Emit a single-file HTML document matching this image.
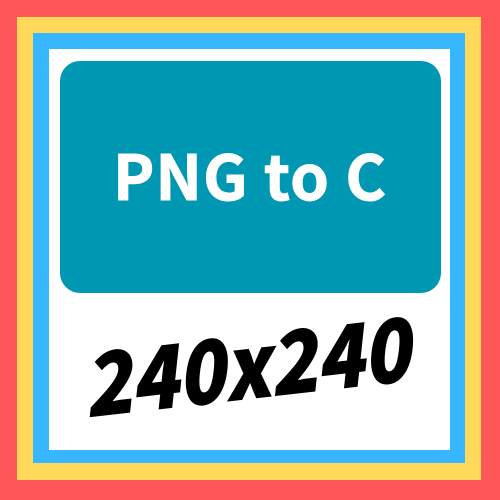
<!DOCTYPE html>
<html lang="en">
<head>
<meta charset="utf-8">
<title>PNG to C 240x240</title>
<style>
html,body{margin:0;padding:0;width:500px;height:500px;overflow:hidden;background:#ff5757}
svg{display:block}
text{font-family:"Noto Sans CJK JP","Liberation Sans",sans-serif}
</style>
</head>
<body>
<svg width="500" height="500" viewBox="0 0 500 500">
<rect x="0" y="0" width="500" height="500" fill="#ff5757"/>
<rect x="17" y="17" width="464" height="463" fill="#ffd95a"/>
<rect x="33" y="33" width="432" height="430" fill="#38b6ff"/>
<rect x="49" y="49" width="401" height="401" fill="#ffffff"/>
<rect x="60" y="61" width="381" height="232" rx="20" ry="20" fill="#0097b2"/>
<text x="113" y="200" font-size="62" font-weight="700" fill="#ffffff" stroke="#ffffff" stroke-width="1" textLength="273" lengthAdjust="spacing">PNG to C</text>
<text transform="translate(87 417) rotate(-6.5)" font-size="86" font-weight="900" font-style="italic" fill="#000000" stroke="#000000" stroke-width="1" textLength="327" lengthAdjust="spacingAndGlyphs">240x240</text>
</svg>
</body>
</html>
